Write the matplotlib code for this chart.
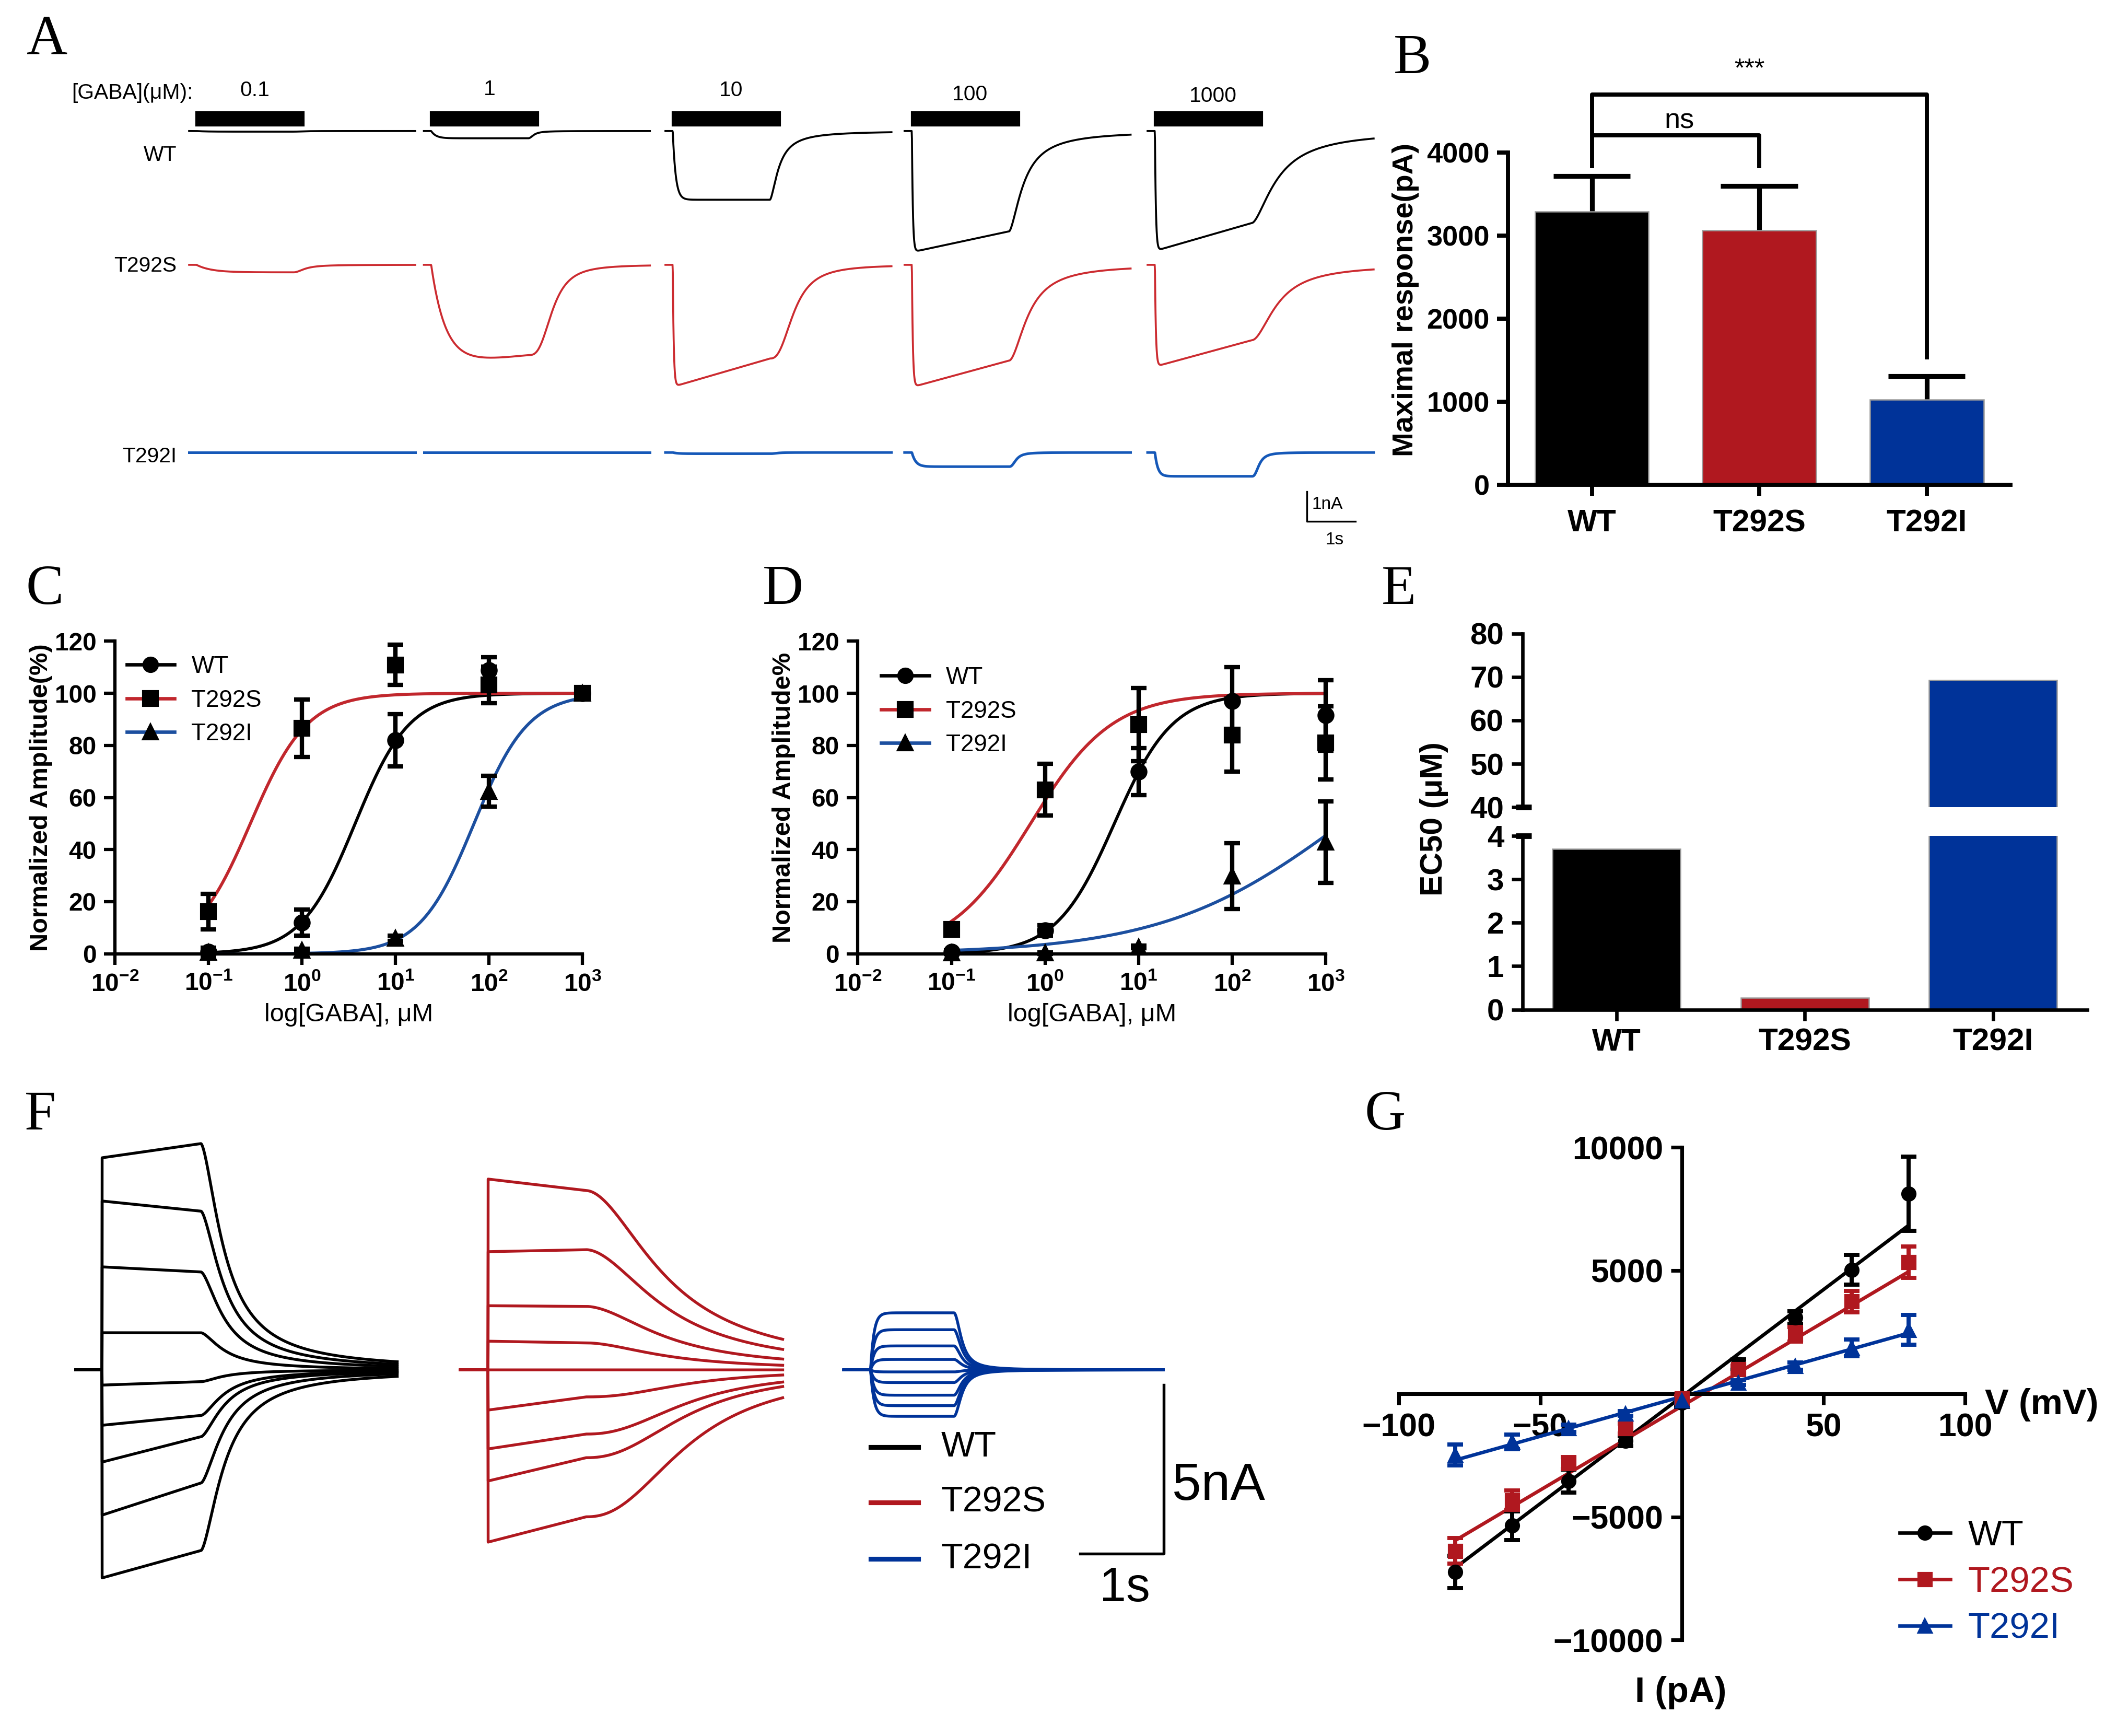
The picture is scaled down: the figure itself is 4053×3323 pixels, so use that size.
import numpy as np
import matplotlib
matplotlib.use('Agg')
import matplotlib.pyplot as plt
import matplotlib.transforms as mtransforms
from matplotlib.lines import Line2D
from matplotlib.patches import Rectangle

plt.rcParams['font.family'] = ['Liberation Sans', 'DejaVu Sans']
plt.rcParams['mathtext.default'] = 'regular'

RED = '#B0181F'
BLUE = '#003399'
RED_LINE = '#C1272D'
BLUE_LINE = '#1C4F9F'
RED_TR = '#CC2B30'
BLUE_TR = '#1558B8'

genotypes = ['WT', 'T292S', 'T292I']

# ---- panel A: GABA evoked currents (nA) per concentration
conc_labels = ['0.1', '1', '10', '100', '1000']
seg_start = [0.28, 5.11, 10.08, 15.0, 20.0]      # s
wt_peak = [0.02, 0.24, 2.28, 4.02, 3.98]
wt_end = [0.02, 0.24, 2.28, 3.33, 3.05]
wt_tau_on = [0.2, 0.1, 0.06, 0.02, 0.02]
wt_t50 = [0.2, 0.12, 0.2, 0.32, 0.55]
wt_n = [2.0, 2.0, 1.6, 1.6, 1.6]
s_peak = [0.25, 3.35, 4.05, 4.06, 3.38]
s_end = [0.25, 3.0, 3.11, 3.18, 2.5]
s_tau_on = [0.3, 0.3, 0.02, 0.02, 0.02]
s_t50 = [0.25, 0.5, 0.5, 0.42, 0.55]
s_n = [2.0, 3.0, 2.6, 1.8, 1.8]
i_peak = [0.0, 0.0, 0.04, 0.47, 0.79]
i_end = [0.0, 0.0, 0.04, 0.47, 0.79]
i_tau_on = [0.1, 0.1, 0.1, 0.08, 0.06]
i_t50 = [0.15, 0.15, 0.15, 0.15, 0.15]
i_n = [2.5, 2.5, 2.5, 2.5, 2.5]

# ---- panel B: maximal response (pA)
max_resp = [3293, 3065, 1029]
max_resp_err = [423, 533, 283]

# ---- panel C / D: concentration-response (%)
conc = [0.1, 1, 10, 100, 1000]
c_wt = [0.8, 12, 82, 108.8, 100]
c_wt_err = [1.5, 5, 10, 5, 0]
c_s = [16.2, 86.6, 110.9, 103.2, 100]
c_s_err = [6.8, 11, 7.7, 7, 0]
c_i = [0.5, 1.4, 6, 62.4, 100]
c_i_err = [0.5, 0.5, 1, 6, 0]
c_ec50 = [3.7, 0.28, 69]
c_hill = [1.5, 1.43, 1.5]

d_wt = [0.8, 9, 70, 97, 91.5]
d_wt_err = [0.5, 2, 9, 13, 13.5]
d_s = [9.3, 63, 88, 84, 81]
d_s_err = [1, 10, 14, 14, 14]
d_i = [0.3, 0.3, 2.6, 29.8, 42.8]
d_i_err = [0.3, 0.3, 0.5, 12.6, 15.6]
d_ec50 = [5.5, 0.7, 1500]
d_hill = [1.4, 1.0, 0.45]

# ---- panel E: EC50 (uM)
ec50_bar = [3.7, 0.27, 69.2]

# ---- panel F: voltage step families (nA)
wt_f_start = [6.28, 5.0, 3.05, 1.1, -0.45, -1.64, -2.73, -4.3, -6.16]
wt_f_end = [6.7, 4.7, 2.9, 1.1, -0.35, -1.35, -1.98, -3.35, -5.35]
s_f_start = [5.65, 3.5, 1.9, 0.85, 0.0, -1.19, -2.34, -3.29, -5.1]
s_f_end = [5.31, 3.56, 1.88, 0.8, 0.0, -0.8, -1.9, -2.6, -4.35]
s_f_t50 = [1.0, 1.0, 1.0, 1.0, 1.0, 1.25, 1.25, 1.25, 1.25]
s_f_n = [1.85, 1.85, 1.85, 1.85, 1.85, 2.3, 2.3, 2.3, 2.3]
i_f_amp = [1.69, 1.19, 0.71, 0.31, -0.06, -0.375, -0.75, -1.06, -1.375]

# ---- panel G: I-V (pA)
volts = [-80, -60, -40, -20, 0, 20, 40, 60, 80]
iv_wt = [-7238, -5352, -3551, -1921, -377, 1200, 3088, 5026, 8113]
iv_wt_err = [660, 580, 470, 200, 150, 200, 250, 600, 1500]
iv_s = [-6381, -4322, -2813, -1407, -206, 995, 2418, 3739, 5334]
iv_s_err = [515, 390, 250, 200, 100, 150, 300, 430, 640]
iv_i = [-2487, -1955, -1407, -806, -292, 446, 1115, 1852, 2590]
iv_i_err = [430, 300, 150, 100, 80, 100, 150, 340, 600]
iv_slope = [86.8, 68.1, 32.2]
iv_icpt = [-120, -506, -120]

W, H = 1568.0, 1285.0


def fbox(x0, y0, x1, y1):
    return [x0 / W, 1 - y1 / H, (x1 - x0) / W, (y1 - y0) / H]


def fxy(x, y):
    return (x / W, 1 - y / H)


def hill(x, ec, n):
    return 100.0 / (1.0 + (ec / x) ** n)


def gaba_trace(t, t_on, peak, end, tau_on, t50, n_off, dur=2.0):
    y = np.zeros_like(t)
    tt = t - t_on
    on = (tt >= 0) & (tt < dur)
    y[on] = -(peak + (end - peak) * tt[on] / dur) * (1 - np.exp(-tt[on] / tau_on))
    off = tt >= dur
    y_end = -end * (1 - np.exp(-dur / tau_on))
    y[off] = y_end / (1 + ((tt[off] - dur) / t50) ** n_off)
    return y


def style_axes(ax, lw=1.6):
    for s in ['top', 'right']:
        ax.spines[s].set_visible(False)
    for s in ['left', 'bottom']:
        ax.spines[s].set_linewidth(lw)
    ax.tick_params(width=lw, length=5, direction='out')


fig = plt.figure(figsize=(4053 / 300, 3323 / 300), dpi=300)
fig.patch.set_facecolor('white')

for lab, (x, y) in zip('ABCDEFG', [(35, 30), (1046, 44), (33, 437), (580, 437),
                                    (1036, 437), (30, 826), (1026, 826)]):
    fig.text(*fxy(x, y), lab, family='Liberation Serif', fontsize=26,
             ha='center', va='center')

# ================= A =================
axA = fig.add_axes(fbox(130, 55, 1020, 410))
axA.set_xlim(0, 890 / 36)
axA.set_ylim(-(410 - 97) / 22.3, (97 - 55) / 22.3)
axA.axis('off')
seg_len = 4.65
bar_off = 0.15
bar_len = 2.2
rows = [
    (0.0, wt_peak, wt_end, wt_tau_on, wt_t50, wt_n, 'black', 0.9),
    (-4.44, s_peak, s_end, s_tau_on, s_t50, s_n, RED_TR, 0.9),
    (-10.67, i_peak, i_end, i_tau_on, i_t50, i_n, BLUE_TR, 1.2),
]
lab_y = [67, 66, 67, 70, 71]
for k in range(5):
    t = np.linspace(seg_start[k], seg_start[k] + seg_len, 800)
    t_on = seg_start[k] + bar_off
    for off, pk, en, ton, t50, nn, col, lw in rows:
        y = off + gaba_trace(t, t_on, pk[k], en[k], ton[k], t50[k], nn[k])
        axA.plot(t, y, color=col, lw=lw)
    axA.add_patch(Rectangle((t_on, 0.18), bar_len, 0.45, color='black'))
    axA.text(t_on + bar_len / 2 + 0.1, (97 - lab_y[k]) / 22.3, conc_labels[k],
             fontsize=9.8, ha='center', va='center')
fig.text(*fxy(53, 69), '[GABA](\u03bcM):', fontsize=9.8, ha='left', va='center')
for name, yy in zip(genotypes, [115, 197, 338]):
    fig.text(*fxy(131, yy), name, fontsize=9.8, ha='right', va='center')
axA.plot([23.28, 23.28, 24.28], [-11.96, -12.96, -12.96], color='black', lw=0.8)
axA.text(23.38, -12.4, '1nA', fontsize=8, ha='left', va='center')
axA.text(23.85, -13.3, '1s', fontsize=8, ha='center', va='top')

# ================= B =================
axB = fig.add_axes(fbox(1117, 113, 1489, 359))
xb = np.arange(3)
bar_cols = ['black', RED, BLUE]
axB.bar(xb, max_resp, width=0.68, color=bar_cols, edgecolor='#9a9a9a', lw=0.6, zorder=2)
tops = np.array(max_resp) + np.array(max_resp_err)
axB.vlines(xb, max_resp, tops, color='black', lw=2.2, zorder=1)
axB.hlines(tops, xb - 0.23, xb + 0.23, color='black', lw=2.2, zorder=1)
axB.set_xlim(-0.5, 2.5)
axB.set_ylim(0, 4000)
axB.set_yticks([0, 1000, 2000, 3000, 4000])
axB.set_xticks(xb)
axB.set_xticklabels(genotypes, fontsize=14.5, fontweight='bold')
for lbl in axB.get_yticklabels():
    lbl.set_fontsize(13)
    lbl.set_fontweight('bold')
style_axes(axB, lw=1.9)
axB.tick_params(axis='x', pad=6)
fig.text(*fxy(1041, 222), 'Maximal response(pA)', fontsize=13.5, fontweight='bold',
         rotation=90, ha='center', va='center')
bk = dict(color='black', lw=1.9, clip_on=False, solid_capstyle='butt')
axB.plot([0, 0, 2, 2], [3810, 4698, 4698, 1511], **bk)
axB.plot([0, 1, 1], [4212, 4212, 3810], **bk)
axB.text(0.524, 4381, 'ns', fontsize=13, ha='center', va='center')
axB.text(0.94, 4998, '***', fontsize=12, ha='center', va='center')

# ================= C / D =================
xs = np.logspace(-1, 3, 400)
dec_labels = [r'$10^{-2}$', r'$10^{-1}$', r'$10^{0}$', r'$10^{1}$', r'$10^{2}$', r'$10^{3}$']
markers = ['o', 's', '^']
curve_cols = ['black', RED_LINE, BLUE_LINE]


def dose_panel(box, series, errs, ecs, hills, ylabel, leg_anchor):
    ax = fig.add_axes(fbox(*box))
    ax.set_xscale('log')
    for vals, err, ec, nh, col, mk in zip(series, errs, ecs, hills, curve_cols, markers):
        ax.plot(xs, hill(xs, ec, nh), color=col, lw=1.4, zorder=2)
        ax.errorbar(conc, vals, yerr=err, fmt=mk, color='black', ms=6.8,
                    elinewidth=2.0, capsize=3.5, capthick=2.0, zorder=3, clip_on=False)
    ax.set_xlim(1e-2, 1e3)
    ax.set_ylim(0, 120)
    ax.set_yticks(range(0, 121, 20))
    ax.set_xticks([1e-2, 1e-1, 1, 10, 100, 1000])
    ax.set_xticklabels(dec_labels)
    ax.minorticks_off()
    style_axes(ax, lw=1.5)
    for lbl in ax.get_xticklabels() + ax.get_yticklabels():
        lbl.set_fontsize(11.5)
        lbl.set_fontweight('bold')
    ax.set_ylabel(ylabel, fontsize=11.7, fontweight='bold', labelpad=1)
    ax.set_xlabel('log[GABA], \u03bcM', fontsize=11.7, labelpad=3)
    handles = [Line2D([], [], color=c, lw=1.6, marker=m, mfc='black', mec='black', ms=6.5)
               for c, m in zip(curve_cols, markers)]
    ax.legend(handles, genotypes, loc='upper left', bbox_to_anchor=leg_anchor,
              frameon=False, fontsize=11, handlelength=2.0, handletextpad=0.7,
              labelspacing=0.45, borderpad=0, borderaxespad=0)
    return ax


axC = dose_panel((85.2, 474.6, 431.5, 706), [c_wt, c_s, c_i], [c_wt_err, c_s_err, c_i_err],
                 c_ec50, c_hill, 'Normalized Amplitude(%)', (0.025, 0.955))
axD = dose_panel((635.4, 474.6, 982, 706), [d_wt, d_s, d_i], [d_wt_err, d_s_err, d_i_err],
                 d_ec50, d_hill, 'Normalized Amplitude%', (0.05, 0.92))

# ================= E =================
axEt = fig.add_axes(fbox(1127.6, 468.9, 1546, 597.6))
axEb = fig.add_axes(fbox(1127.6, 618.8, 1546, 747.3))
for ax in (axEt, axEb):
    ax.bar(xb, ec50_bar, width=0.68, color=bar_cols, edgecolor='#9a9a9a', lw=0.6)
    ax.set_xlim(-0.5, 2.5)
    style_axes(ax, lw=1.6)
axEt.set_ylim(40, 80)
axEt.set_yticks([40, 50, 60, 70, 80])
axEt.spines['bottom'].set_visible(False)
axEt.set_xticks([])
axEb.set_ylim(0, 4)
axEb.set_yticks([0, 1, 2, 3, 4])
axEb.set_xticks(xb)
axEb.set_xticklabels(genotypes, fontsize=14.5, fontweight='bold')
for ax in (axEt, axEb):
    for lbl in ax.get_yticklabels():
        lbl.set_fontsize(14)
        lbl.set_fontweight('bold')
for ax, yb in ((axEt, 40), (axEb, 4)):
    tr = mtransforms.blended_transform_factory(ax.transAxes, ax.transData)
    ax.plot([-0.012, 0.016], [yb, yb], color='black', lw=2.6, transform=tr,
            clip_on=False, solid_capstyle='butt')
fig.text(*fxy(1062, 606), 'EC50 (\u03bcM)', fontsize=14.5, fontweight='bold',
         rotation=90, ha='center', va='center')

# ================= F =================
axF = fig.add_axes(fbox(40, 800, 960, 1200))
axF.set_xlim(0, 920 / 62)
axF.set_ylim(-(1200 - 1014) / 25, (1014 - 800) / 25)
axF.axis('off')

# WT
t = np.linspace(0.26, 4.1, 2000)
on0, off0 = 0.574, 1.755
for a0, a1 in zip(wt_f_start, wt_f_end):
    y = np.zeros_like(t)
    m = (t >= on0) & (t < off0)
    y[m] = a0 + (a1 - a0) * (t[m] - on0) / (off0 - on0)
    m = t >= off0
    y[m] = a1 / (1 + ((t[m] - off0) / 0.3) ** 1.6)
    axF.plot(t, y, color='black', lw=1.3)
# T292S
t = np.linspace(4.855, 8.705, 2000)
on0, off0 = 5.185, 6.355
for a0, a1, t50, nn in zip(s_f_start, s_f_end, s_f_t50, s_f_n):
    y = np.zeros_like(t)
    m = (t >= on0) & (t < off0)
    y[m] = a0 + (a1 - a0) * (t[m] - on0) / (off0 - on0)
    m = t >= off0
    y[m] = a1 / (1 + ((t[m] - off0) / t50) ** nn)
    axF.plot(t, y, color=RED, lw=1.3)
# T292I
t = np.linspace(9.435, 13.25, 2000)
on0, off0 = 9.755, 10.75
for a in i_f_amp:
    y = np.zeros_like(t)
    m = (t >= on0) & (t < off0)
    y[m] = a * (1 - np.exp(-(t[m] - on0) / 0.04))
    m = t >= off0
    y[m] = a * (1 - np.exp(-(off0 - on0) / 0.04)) / (1 + ((t[m] - off0) / 0.1) ** 2)
    axF.plot(t, y, color=BLUE, lw=1.3)
# scale bar
axF.plot([12.26, 13.26, 13.26], [-5.44, -5.44, -0.44], color='black', lw=1.3)
fig.text(*fxy(868, 1100), '5nA', fontsize=24, ha='left', va='center')
fig.text(*fxy(833, 1176), '1s', fontsize=22, ha='center', va='center')
for name, col, yy in zip(genotypes, ['black', RED, BLUE], [1071, 1112, 1154]):
    fig.add_artist(Line2D([645 / W, 680 / W], [1 - yy / H, 1 - yy / H], color=col, lw=2.2))
    fig.text(*fxy(697, yy), name, fontsize=16.4, ha='left', va='center')

# ================= G =================
axG = fig.add_axes(fbox(1036, 849.2, 1455.4, 1214))
iv_series = [iv_wt, iv_s, iv_i]
iv_errs = [iv_wt_err, iv_s_err, iv_i_err]
g_cols = ['black', RED, BLUE]
vfit = np.array([-80, 80])
for vals, err, sl, ic, col, mk in zip(iv_series, iv_errs, iv_slope, iv_icpt, g_cols, markers):
    axG.plot(vfit, sl * vfit + ic, color=col, lw=1.6, zorder=2)
    axG.errorbar(volts, vals, yerr=err, fmt=mk, color=col, ms=6, elinewidth=1.9,
                 capsize=3.5, capthick=1.9, zorder=3)
axG.set_xlim(-100, 100)
axG.set_ylim(-10000, 10000)
axG.spines['left'].set_position(('data', 0))
axG.spines['bottom'].set_position(('data', 0))
style_axes(axG, lw=1.7)
axG.set_xticks([-100, -50, 50, 100])
axG.set_yticks([-10000, -5000, 5000, 10000])
for lbl in axG.get_xticklabels() + axG.get_yticklabels():
    lbl.set_fontsize(15)
    lbl.set_fontweight('bold')
fig.text(*fxy(1512, 1040), 'V (mV)', fontsize=16.5, fontweight='bold', ha='center', va='center')
fig.text(*fxy(1245, 1253), 'I (pA)', fontsize=16.5, fontweight='bold', ha='center', va='center')
handles = [Line2D([], [], color=c, lw=1.6, marker=m, ms=6) for c, m in zip(g_cols, markers)]
axG.legend(handles, genotypes, loc='upper left', bbox_to_anchor=(0.885, 0.245),
           frameon=False, fontsize=16.5, handlelength=1.4, handletextpad=0.5,
           labelspacing=0.36, borderpad=0, borderaxespad=0, labelcolor='linecolor')

fig.savefig('out.png', dpi=300)
